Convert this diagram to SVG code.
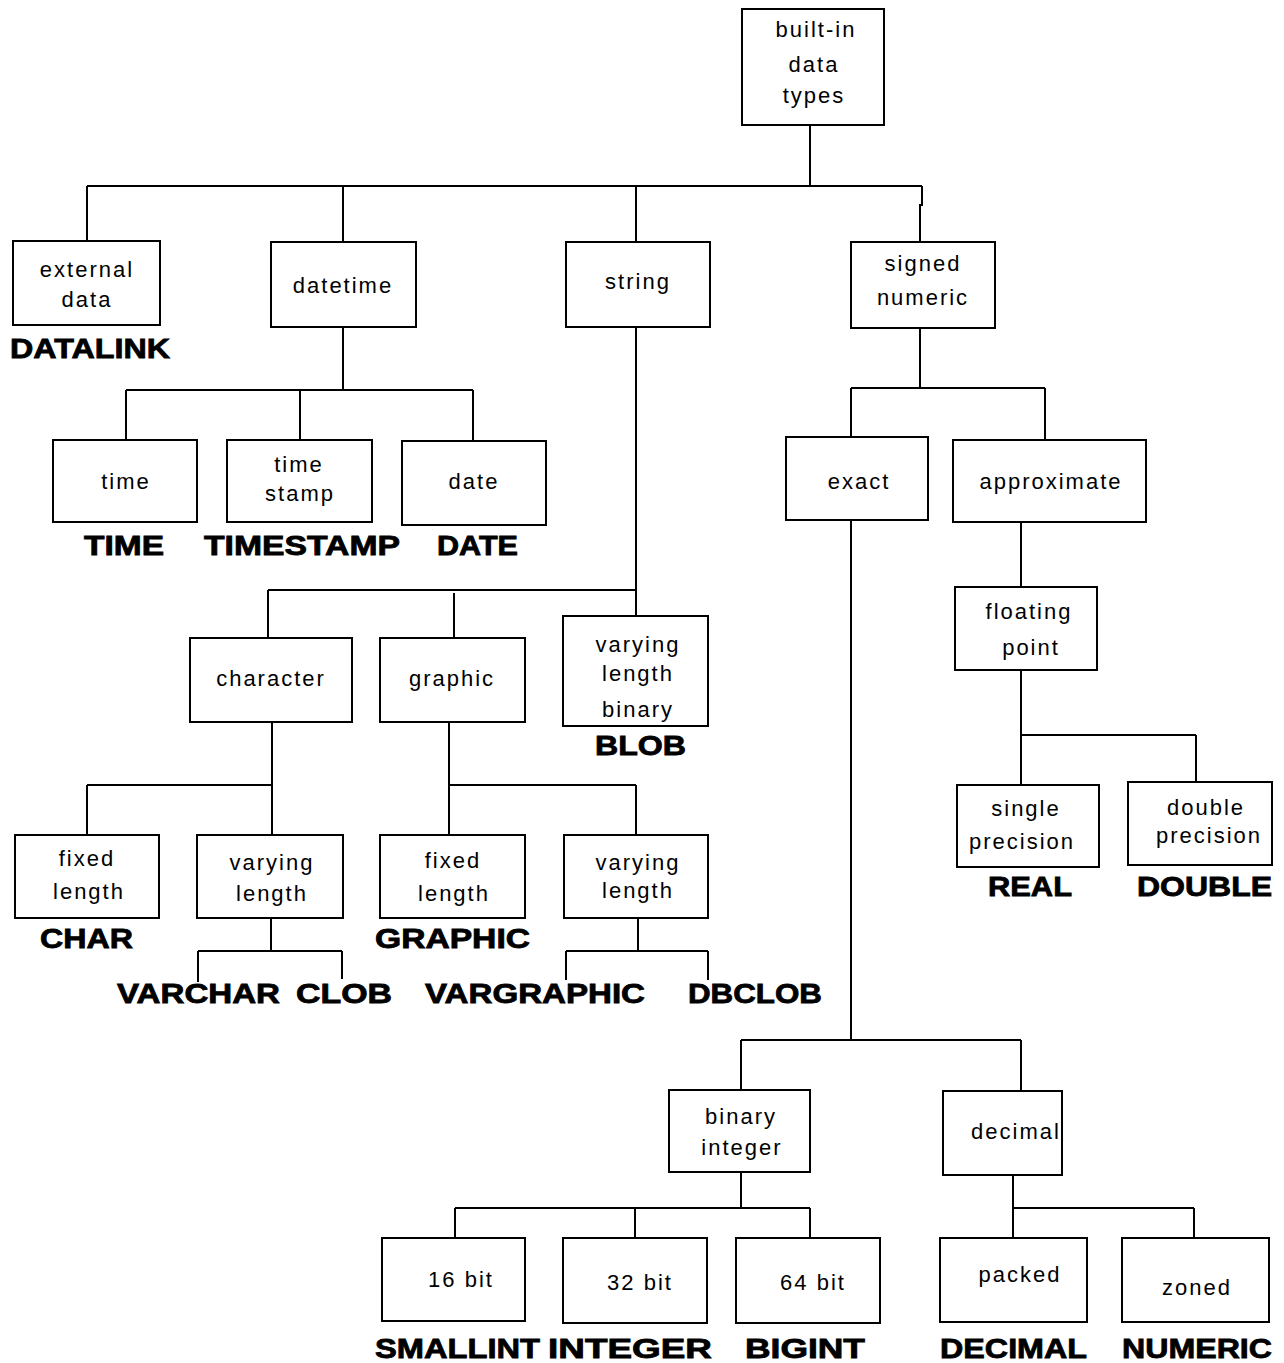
<svg xmlns="http://www.w3.org/2000/svg" width="1284" height="1363" viewBox="0 0 1284 1363">
  <style>
    .box { fill: #fff; stroke: #000; stroke-width: 2; }
    .lines line, .lines polyline { stroke: #000; stroke-width: 2; fill: none; }
    .t { font-family: "Liberation Sans", Arial, sans-serif; font-size: 22px; fill: #000; text-anchor: middle; letter-spacing: 2px; }
    .k { font-family: "Liberation Sans", Arial, sans-serif; font-size: 27px; font-weight: bold; fill: #000; stroke: #000; stroke-width: 0.8; }
  </style>
  <rect width="1284" height="1363" fill="#fff"/>

  <!-- connectors -->
  <g id="connectors" class="lines">
    <!-- root -->
    <line x1="810" y1="125" x2="810" y2="186"/>
    <line x1="87" y1="186" x2="922" y2="186"/>
    <line x1="87" y1="186" x2="87" y2="241"/>
    <line x1="343" y1="186" x2="343" y2="242"/>
    <line x1="636" y1="186" x2="636" y2="242"/>
    <polyline points="922,186 922,205 920,205 920,242"/>
    <!-- datetime -->
    <line x1="343" y1="327" x2="343" y2="390"/>
    <line x1="126" y1="390" x2="473" y2="390"/>
    <line x1="126" y1="390" x2="126" y2="440"/>
    <line x1="300" y1="390" x2="300" y2="440"/>
    <line x1="473" y1="390" x2="473" y2="441"/>
    <!-- string -->
    <line x1="636" y1="327" x2="636" y2="616"/>
    <line x1="268" y1="590" x2="636" y2="590"/>
    <line x1="268" y1="590" x2="268" y2="638"/>
    <line x1="454" y1="593" x2="454" y2="638"/>
    <!-- character -->
    <line x1="272" y1="722" x2="272" y2="835"/>
    <line x1="87" y1="785" x2="272" y2="785"/>
    <line x1="87" y1="785" x2="87" y2="835"/>
    <line x1="271" y1="918" x2="271" y2="951"/>
    <line x1="198" y1="951" x2="342" y2="951"/>
    <line x1="198" y1="951" x2="198" y2="982"/>
    <line x1="342" y1="951" x2="342" y2="979"/>
    <!-- graphic -->
    <line x1="449" y1="722" x2="449" y2="835"/>
    <line x1="449" y1="785" x2="636" y2="785"/>
    <line x1="636" y1="785" x2="636" y2="835"/>
    <line x1="638" y1="918" x2="638" y2="951"/>
    <line x1="566" y1="951" x2="708" y2="951"/>
    <line x1="566" y1="951" x2="566" y2="980"/>
    <line x1="708" y1="951" x2="708" y2="980"/>
    <!-- signed numeric -->
    <line x1="920" y1="328" x2="920" y2="388"/>
    <line x1="851" y1="388" x2="1045" y2="388"/>
    <line x1="851" y1="388" x2="851" y2="437"/>
    <line x1="1045" y1="388" x2="1045" y2="440"/>
    <!-- approximate -->
    <line x1="1021" y1="522" x2="1021" y2="587"/>
    <line x1="1021" y1="670" x2="1021" y2="785"/>
    <line x1="1021" y1="735" x2="1196" y2="735"/>
    <line x1="1196" y1="735" x2="1196" y2="782"/>
    <!-- exact -->
    <line x1="851" y1="520" x2="851" y2="1040"/>
    <line x1="741" y1="1040" x2="1021" y2="1040"/>
    <line x1="741" y1="1040" x2="741" y2="1090"/>
    <line x1="1021" y1="1040" x2="1021" y2="1091"/>
    <!-- binary integer -->
    <line x1="741" y1="1172" x2="741" y2="1208"/>
    <line x1="455" y1="1208" x2="810" y2="1208"/>
    <line x1="455" y1="1208" x2="455" y2="1238"/>
    <line x1="635" y1="1208" x2="635" y2="1238"/>
    <line x1="810" y1="1208" x2="810" y2="1238"/>
    <!-- decimal -->
    <line x1="1013" y1="1175" x2="1013" y2="1238"/>
    <line x1="1013" y1="1208" x2="1194" y2="1208"/>
    <line x1="1194" y1="1208" x2="1194" y2="1238"/>
  </g>

  <!-- nodes -->
  <g id="root">
    <rect class="box" x="742" y="9" width="142" height="116"/>
    <text class="t" x="816" y="37">built-in</text>
    <text class="t" x="814" y="72">data</text>
    <text class="t" x="814" y="103">types</text>
  </g>

  <g id="external-data">
    <rect class="box" x="13" y="241" width="147" height="84"/>
    <text class="t" x="87" y="277">external</text>
    <text class="t" x="87" y="307">data</text>
    <text class="k" x="10" y="358" textLength="160" lengthAdjust="spacingAndGlyphs">DATALINK</text>
  </g>

  <g id="datetime">
    <rect class="box" x="271" y="242" width="145" height="85"/>
    <text class="t" x="343" y="293">datetime</text>
  </g>

  <g id="string">
    <rect class="box" x="566" y="242" width="144" height="85"/>
    <text class="t" x="638" y="289">string</text>
  </g>

  <g id="signed-numeric">
    <rect class="box" x="851" y="242" width="144" height="86"/>
    <text class="t" x="923" y="271">signed</text>
    <text class="t" x="923" y="305">numeric</text>
  </g>

  <g id="time">
    <rect class="box" x="53" y="440" width="144" height="82"/>
    <text class="t" x="126" y="489">time</text>
    <text class="k" x="84" y="555" textLength="80" lengthAdjust="spacingAndGlyphs">TIME</text>
  </g>

  <g id="timestamp">
    <rect class="box" x="227" y="440" width="145" height="82"/>
    <text class="t" x="299" y="472">time</text>
    <text class="t" x="300" y="501">stamp</text>
    <text class="k" x="204" y="555" textLength="196" lengthAdjust="spacingAndGlyphs">TIMESTAMP</text>
  </g>

  <g id="date">
    <rect class="box" x="402" y="441" width="144" height="84"/>
    <text class="t" x="474" y="489">date</text>
    <text class="k" x="437" y="555" textLength="81" lengthAdjust="spacingAndGlyphs">DATE</text>
  </g>

  <g id="character">
    <rect class="box" x="190" y="638" width="162" height="84"/>
    <text class="t" x="271" y="686">character</text>
  </g>

  <g id="graphic">
    <rect class="box" x="380" y="638" width="145" height="84"/>
    <text class="t" x="452" y="686">graphic</text>
  </g>

  <g id="varying-length-binary">
    <rect class="box" x="563" y="616" width="145" height="110"/>
    <text class="t" x="638" y="652">varying</text>
    <text class="t" x="638" y="681">length</text>
    <text class="t" x="638" y="717">binary</text>
    <text class="k" x="595" y="755" textLength="91" lengthAdjust="spacingAndGlyphs">BLOB</text>
  </g>

  <g id="char-fixed-length">
    <rect class="box" x="15" y="835" width="144" height="83"/>
    <text class="t" x="87" y="866">fixed</text>
    <text class="t" x="89" y="899">length</text>
    <text class="k" x="40" y="948" textLength="93" lengthAdjust="spacingAndGlyphs">CHAR</text>
  </g>

  <g id="char-varying-length">
    <rect class="box" x="197" y="835" width="146" height="83"/>
    <text class="t" x="272" y="870">varying</text>
    <text class="t" x="272" y="901">length</text>
    <text class="k" x="117" y="1003" textLength="163" lengthAdjust="spacingAndGlyphs">VARCHAR</text>
    <text class="k" x="296" y="1003" textLength="96" lengthAdjust="spacingAndGlyphs">CLOB</text>
  </g>

  <g id="graphic-fixed-length">
    <rect class="box" x="380" y="835" width="145" height="83"/>
    <text class="t" x="453" y="868">fixed</text>
    <text class="t" x="454" y="901">length</text>
    <text class="k" x="375" y="948" textLength="155" lengthAdjust="spacingAndGlyphs">GRAPHIC</text>
  </g>

  <g id="graphic-varying-length">
    <rect class="box" x="564" y="835" width="144" height="83"/>
    <text class="t" x="638" y="870">varying</text>
    <text class="t" x="638" y="898">length</text>
    <text class="k" x="425" y="1003" textLength="220" lengthAdjust="spacingAndGlyphs">VARGRAPHIC</text>
    <text class="k" x="688" y="1003" textLength="134" lengthAdjust="spacingAndGlyphs">DBCLOB</text>
  </g>

  <g id="exact">
    <rect class="box" x="786" y="437" width="142" height="83"/>
    <text class="t" x="859" y="489">exact</text>
  </g>

  <g id="approximate">
    <rect class="box" x="953" y="440" width="193" height="82"/>
    <text class="t" x="1051" y="489">approximate</text>
  </g>

  <g id="floating-point">
    <rect class="box" x="955" y="587" width="142" height="83"/>
    <text class="t" x="1029" y="619">floating</text>
    <text class="t" x="1031" y="655">point</text>
  </g>

  <g id="single-precision">
    <rect class="box" x="957" y="785" width="142" height="82"/>
    <text class="t" x="1026" y="816">single</text>
    <text class="t" x="1022" y="849">precision</text>
    <text class="k" x="988" y="896" textLength="84" lengthAdjust="spacingAndGlyphs">REAL</text>
  </g>

  <g id="double-precision">
    <rect class="box" x="1128" y="782" width="144" height="83"/>
    <text class="t" x="1206" y="815">double</text>
    <text class="t" x="1209" y="843">precision</text>
    <text class="k" x="1137" y="896" textLength="135" lengthAdjust="spacingAndGlyphs">DOUBLE</text>
  </g>

  <g id="binary-integer">
    <rect class="box" x="669" y="1090" width="141" height="82"/>
    <text class="t" x="741" y="1124">binary</text>
    <text class="t" x="742" y="1155">integer</text>
  </g>

  <g id="decimal">
    <rect class="box" x="943" y="1091" width="119" height="84"/>
    <text class="t" x="1016" y="1139">decimal</text>
  </g>

  <g id="bit16">
    <rect class="box" x="382" y="1238" width="143" height="83"/>
    <text class="t" x="461" y="1287">16 bit</text>
    <text class="k" x="375" y="1358" textLength="165" lengthAdjust="spacingAndGlyphs">SMALLINT</text>
  </g>

  <g id="bit32">
    <rect class="box" x="563" y="1238" width="144" height="85"/>
    <text class="t" x="640" y="1290">32 bit</text>
    <text class="k" x="548" y="1358" textLength="164" lengthAdjust="spacingAndGlyphs">INTEGER</text>
  </g>

  <g id="bit64">
    <rect class="box" x="736" y="1238" width="144" height="85"/>
    <text class="t" x="813" y="1290">64 bit</text>
    <text class="k" x="745" y="1358" textLength="120" lengthAdjust="spacingAndGlyphs">BIGINT</text>
  </g>

  <g id="packed">
    <rect class="box" x="940" y="1238" width="147" height="84"/>
    <text class="t" x="1020" y="1282">packed</text>
    <text class="k" x="940" y="1358" textLength="147" lengthAdjust="spacingAndGlyphs">DECIMAL</text>
  </g>

  <g id="zoned">
    <rect class="box" x="1122" y="1238" width="147" height="84"/>
    <text class="t" x="1197" y="1295">zoned</text>
    <text class="k" x="1122" y="1358" textLength="150" lengthAdjust="spacingAndGlyphs">NUMERIC</text>
  </g>
</svg>
